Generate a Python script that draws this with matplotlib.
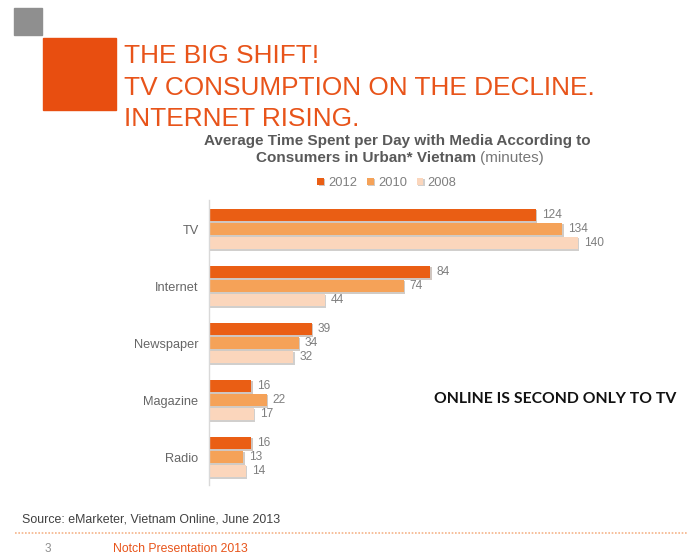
import matplotlib
matplotlib.use('Agg')
import matplotlib.pyplot as plt
import matplotlib.patches as mpatches
import matplotlib.patheffects as pe
import numpy as np

# ── Dati ─────────────────────────────────────────────────────────────────
categories = ['TV', 'Internet', 'Newspaper', 'Magazine', 'Radio']
years = ['2012', '2010', '2008']
minutes_2012 = [124, 84, 39, 16, 16]
minutes_2010 = [134, 74, 34, 22, 13]
minutes_2008 = [140, 44, 32, 17, 14]
series = [minutes_2012, minutes_2010, minutes_2008]
colors = ['#EA5E14', '#F5A258', '#FBD6BC']

ORANGE = '#E8541A'
W, H = 687, 554


def px(x, y):
    """pixel (dall'alto a sinistra) -> coordinate figura"""
    return x / W, 1 - y / H


plt.rcParams['font.family'] = ['Liberation Sans', 'DejaVu Sans']
fig = plt.figure(figsize=(W / 100, H / 100), dpi=100)

# ── Intestazione slide ───────────────────────────────────────────────────
fig.patches.append(mpatches.Rectangle(px(14, 35), 28 / W, 27 / H,
                                      transform=fig.transFigure, color='#8F8F8F'))
fig.patches.append(mpatches.Rectangle(px(43, 110), 73 / W, 72 / H,
                                      transform=fig.transFigure, color='#E84E10'))
for txt, yb in [('THE BIG SHIFT!', 63), ('TV CONSUMPTION ON THE DECLINE.', 95),
                ('INTERNET RISING.', 126)]:
    fig.text(*px(124, yb), txt, fontsize=18.9, color=ORANGE, va='baseline')

# ── Titolo grafico ───────────────────────────────────────────────────────
fig.text(*px(397, 145), 'Average Time Spent per Day with Media According to',
         fontsize=11, fontweight='bold', color='#595959', ha='center', va='baseline')
fig.text(*px(476, 162), 'Consumers in Urban* Vietnam', fontsize=11,
         fontweight='bold', color='#595959', ha='right', va='baseline')
fig.text(*px(480, 162), '(minutes)', fontsize=11, color='#777777', va='baseline')

# ── Barre ────────────────────────────────────────────────────────────────
ax = fig.add_axes([209 / W, 1 - 485 / H, 471 / W, 285 / H])
y = np.arange(len(categories))
step, h = 0.245, 0.215
shadow = [pe.SimplePatchShadow(offset=(1, -1), alpha=0.25), pe.Normal()]
for k, (vals, col, yr) in enumerate(zip(series, colors, years)):
    bars = ax.barh(y + (k - 1) * step, vals, height=h, color=col, label=yr)
    for b in bars:
        b.set_path_effects(shadow)
    for yi, v in zip(y + (k - 1) * step, vals):
        ax.text(v + 2.2, yi, str(v), fontsize=8.6, color='#7F7F7F', va='center')

ax.set_xlim(0, 178.7)
ax.set_ylim(4.49, -0.509)
ax.set_yticks(y)
ax.set_yticklabels(categories, fontsize=9.2, color='#666666')
ax.tick_params(axis='y', length=0, pad=7.5)
ax.set_xticks([])
for s in ('top', 'right', 'bottom'):
    ax.spines[s].set_visible(False)
ax.spines['left'].set_color('#D9D9D9')
ax.spines['left'].set_linewidth(1)

fig.legend(loc='center', bbox_to_anchor=px(387, 183), ncol=3, frameon=False,
           fontsize=9.3, handlelength=0.5, handleheight=0.5, handletextpad=0.35,
           columnspacing=0.75, labelcolor='#7F7F7F')

fig.text(*px(555, 403), 'ONLINE IS SECOND ONLY TO TV', fontsize=11.3,
         fontweight='bold', family=['Lato', 'DejaVu Sans'], color='#111111',
         ha='center', va='baseline')

# ── Piè di pagina ────────────────────────────────────────────────────────
fig.text(*px(22, 523), 'Source: eMarketer, Vietnam Online, June 2013',
         fontsize=8.9, color='#404040', va='baseline')
fig.add_artist(plt.Line2D([15 / W, 1], [1 - 533 / H] * 2, transform=fig.transFigure,
                          color='#F5B48A', lw=1.2, ls=(0, (1, 1))))
fig.text(*px(45, 552), '3', fontsize=8.5, color='#8F8F8F', va='baseline')
fig.text(*px(113, 552), 'Notch Presentation 2013', fontsize=8.8, color=ORANGE,
         va='baseline')

plt.savefig('out.png', dpi=100)
